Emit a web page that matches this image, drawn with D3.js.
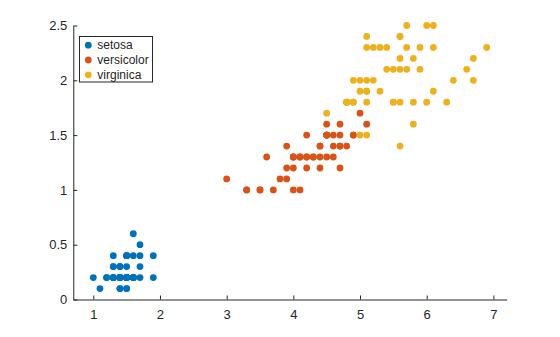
<!DOCTYPE html>
<html><head><meta charset="utf-8">
<script src="https://cdn.jsdelivr.net/npm/d3@7"></script>
<style>body{margin:0;background:#fff;}svg{display:block;}text{font-family:"Liberation Sans",Arial,Helvetica,sans-serif;fill:#262626;}</style>
</head><body>
<svg id="c" width="560" height="337"></svg>
<script>
const species = ["setosa","versicolor","virginica"];
const colors = ["#0072BD","#D95319","#EDB120"];
const xTicks = [1,2,3,4,5,6,7];
const yTicks = [0,0.5,1,1.5,2,2.5];
const setosaLength = [1.4,1.4,1.3,1.5,1.4,1.7,1.4,1.5,1.4,1.5,1.5,1.6,1.4,1.1,1.2,1.5,1.3,1.4,1.7,1.5,1.7,1.5,1.0,1.7,1.9,1.6,1.6,1.5,1.4,1.6,1.6,1.5,1.5,1.4,1.5,1.2,1.3,1.4,1.3,1.5,1.3,1.3,1.3,1.6,1.9,1.4,1.6,1.4,1.5,1.4];
const setosaWidth  = [0.2,0.2,0.2,0.2,0.2,0.4,0.3,0.2,0.2,0.1,0.2,0.2,0.1,0.1,0.2,0.4,0.4,0.3,0.3,0.3,0.2,0.4,0.2,0.5,0.2,0.2,0.4,0.2,0.2,0.2,0.2,0.4,0.1,0.2,0.2,0.2,0.2,0.1,0.2,0.2,0.3,0.3,0.2,0.6,0.4,0.3,0.2,0.2,0.2,0.2];
const versicolorLength = [4.7,4.5,4.9,4.0,4.6,4.5,4.7,3.3,4.6,3.9,3.5,4.2,4.0,4.7,3.6,4.4,4.5,4.1,4.5,3.9,4.8,4.0,4.9,4.7,4.3,4.4,4.8,5.0,4.5,3.5,3.8,3.7,3.9,5.1,4.5,4.5,4.7,4.4,4.1,4.0,4.4,4.6,4.0,3.3,4.2,4.2,4.2,4.3,3.0,4.1];
const versicolorWidth  = [1.4,1.5,1.5,1.3,1.5,1.3,1.6,1.0,1.3,1.4,1.0,1.5,1.0,1.4,1.3,1.4,1.5,1.0,1.5,1.1,1.8,1.3,1.5,1.2,1.3,1.4,1.4,1.7,1.5,1.0,1.1,1.0,1.2,1.6,1.5,1.6,1.5,1.3,1.3,1.3,1.2,1.4,1.2,1.0,1.3,1.2,1.3,1.3,1.1,1.3];
const virginicaLength = [6.0,5.1,5.9,5.6,5.8,6.6,4.5,6.3,5.8,6.1,5.1,5.3,5.5,5.0,5.1,5.3,5.5,6.7,6.9,5.0,5.7,4.9,6.7,4.9,5.7,6.0,4.8,4.9,5.6,5.8,6.1,6.4,5.6,5.1,5.6,6.1,5.6,5.5,4.8,5.4,5.6,5.1,5.1,5.9,5.7,5.2,5.0,5.2,5.4,5.1];
const virginicaWidth  = [2.5,1.9,2.1,1.8,2.2,2.1,1.7,1.8,1.8,2.5,2.0,1.9,2.1,2.0,2.4,2.3,1.8,2.2,2.3,1.5,2.3,2.0,2.0,1.8,2.1,1.8,1.8,1.8,2.1,1.6,1.9,2.0,2.2,1.5,1.4,2.3,2.4,1.8,1.8,2.1,2.4,2.3,1.9,2.3,2.5,2.3,1.9,2.0,2.3,1.8];

const groups = [
  {name: species[0], xs: setosaLength, ys: setosaWidth, color: colors[0]},
  {name: species[1], xs: versicolorLength, ys: versicolorWidth, color: colors[1]},
  {name: species[2], xs: virginicaLength, ys: virginicaWidth, color: colors[2]}
];

const svg = d3.select("#c");
const x = d3.scaleLinear().domain([0.7, 7.2]).range([73.3, 506.7]);
const y = d3.scaleLinear().domain([0, 2.5]).range([299.5, 25.5]);

// points
groups.forEach(g => {
  svg.append("g").selectAll("circle")
    .data(g.xs.map((v,i)=>[v, g.ys[i]]))
    .join("circle")
    .attr("cx", d=>x(d[0])).attr("cy", d=>y(d[1]))
    .attr("r", 3.4).attr("fill", g.color);
});

// axes
const xa = svg.append("g").attr("transform", `translate(0,${y(0)})`)
  .call(d3.axisBottom(x).tickValues(xTicks).tickFormat(d3.format("d")).tickSizeInner(-4).tickSizeOuter(0).tickPadding(10));
const ya = svg.append("g").attr("transform", `translate(${x(0.7)},0)`)
  .call(d3.axisLeft(y).tickValues(yTicks).tickFormat(d=>String(d)).tickSizeInner(-4).tickSizeOuter(0).tickPadding(6));
[xa, ya].forEach(a => {
  a.selectAll("path").attr("stroke","#262626").attr("stroke-width",1);
  a.selectAll("line").attr("stroke","#262626");
  a.selectAll("text").attr("font-size",13).attr("font-family",'"Liberation Sans",Arial,sans-serif').attr("fill","#262626");
});

// legend
const lg = svg.append("g").attr("transform","translate(79.5,36.5)");
lg.append("rect").attr("width",73).attr("height",45.5).attr("fill","#fff").attr("stroke","#262626").attr("stroke-width",1);
groups.forEach((g,i)=>{
  const yy = 8.7 + i*14.8;
  lg.append("circle").attr("cx",8.8).attr("cy",yy).attr("r",3.4).attr("fill",g.color);
  lg.append("text").attr("x",17.8).attr("y",yy).attr("dy","0.35em").attr("font-size",12).text(g.name);
});
</script>
</body></html>
